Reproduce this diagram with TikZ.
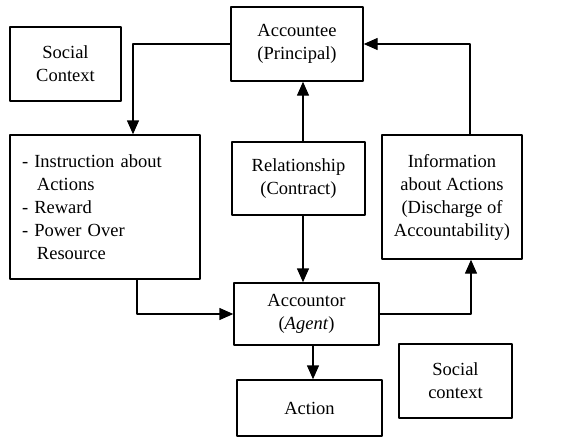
\documentclass[tikz,border=0pt]{standalone}
\usepackage{fontspec}
\setmainfont{Liberation Serif}
\usetikzlibrary{arrows.meta,calc}
\begin{document}
\begin{tikzpicture}[line join=round,x=1pt,y=-1pt,
  box/.style={draw,line width=1.4pt,align=center,inner sep=2pt,font=\fontsize{18.5}{23}\selectfont},
  arr/.style={line width=1.4pt,-{Triangle[length=14pt,width=12pt]}}]
\useasboundingbox (0,0) rectangle (566,437);
% boxes
\node[box,minimum width=111pt,minimum height=74pt] (soc1) at (65.5,64) {Social\\Context};
\node[box,minimum width=132pt,minimum height=74pt] (acct) at (297,44) {Accountee\\(Principal)};
\node[box,minimum width=190pt,minimum height=144pt,text width=166pt,inner xsep=12pt,align=left] (instr) at (105,207)
  {- Instruction about\\\hspace*{15pt}Actions\\- Reward\\- Power Over\\\hspace*{15pt}Resource};
\node[box,minimum width=133pt,minimum height=73pt] (rel) at (298.5,178.5) {Relationship\\(Contract)};
\node[box,minimum width=140pt,minimum height=124pt] (info) at (452,197) {Information\\about Actions\\(Discharge of\\Accountability)};
\node[box,minimum width=145pt,minimum height=62pt] (agent) at (306.5,314) {Accountor\\(\textit{Agent})};
\node[box,minimum width=145pt,minimum height=56pt] (act) at (309.5,408) {Action};
\node[box,minimum width=113pt,minimum height=74pt] (soc2) at (455.5,381) {Social\\context};
% connectors
\draw[arr] (acct.west) -| ([xshift=28pt]instr.north);
\draw[arr] ([xshift=18pt]info.north) |- (acct.east);
\draw[arr] ([xshift=4.5pt]rel.north) -- ([xshift=4.5pt]rel.north |- acct.south);
\draw[arr] ([xshift=4.5pt]rel.south) -- ([xshift=4.5pt]rel.south |- agent.north);
\draw[arr] ([xshift=32pt]instr.south) |- (agent.west);
\draw[arr] (agent.east) -| ([xshift=19pt]info.south);
\draw[arr] ([xshift=6.5pt]agent.south) -- ([xshift=6.5pt]agent.south |- act.north);
\end{tikzpicture}
\end{document}
